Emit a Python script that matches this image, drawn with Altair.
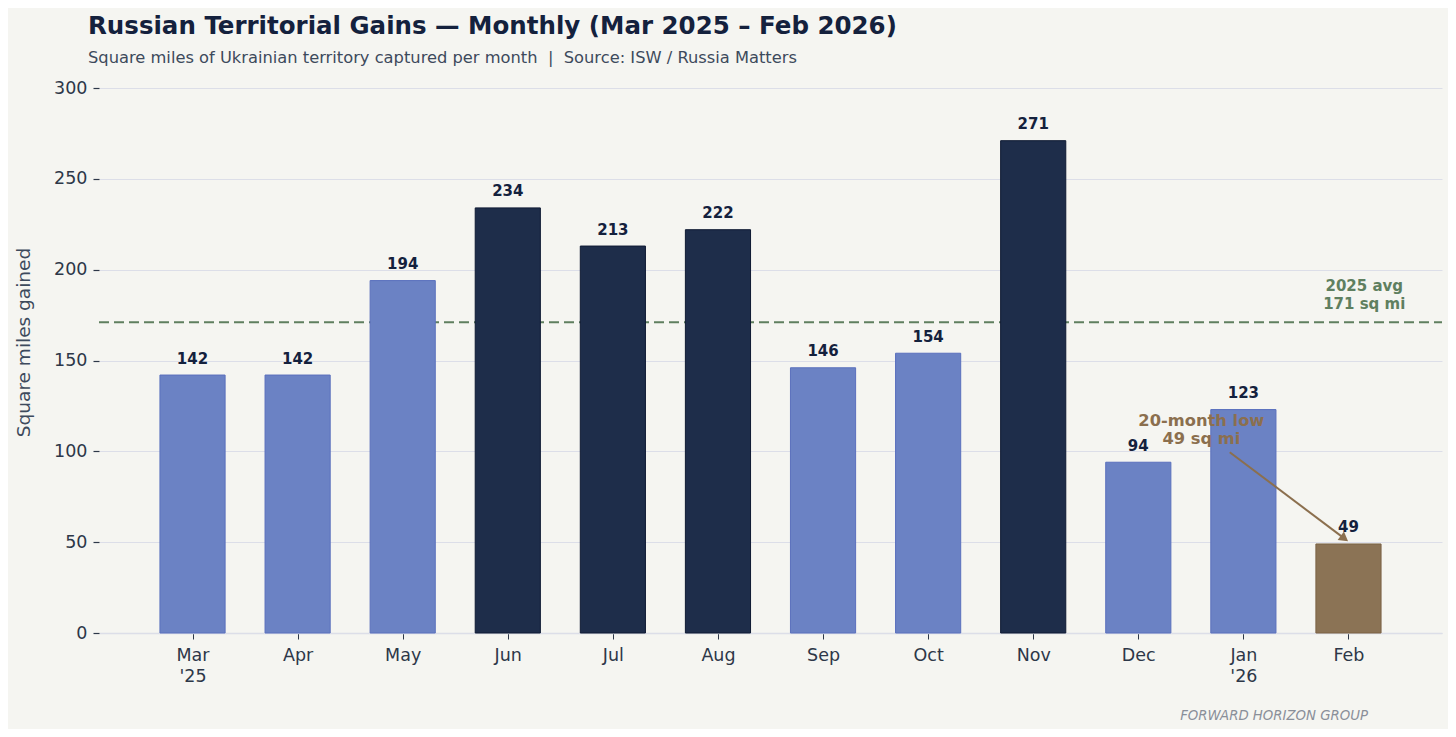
import altair as alt
import pandas as pd

months = ["Mar\n'25", "Apr", "May", "Jun", "Jul", "Aug", "Sep", "Oct", "Nov", "Dec", "Jan\n'26", "Feb"]
values = [142, 142, 194, 234, 213, 222, 146, 154, 271, 94, 123, 49]
groups = ["normal", "normal", "normal", "high", "high", "high", "normal", "normal", "high", "normal", "normal", "low"]

avg_value = 171
avg_label = ["2025 avg", "171 sq mi"]
low_label = ["20-month low", "49 sq mi"]

BG = "#f5f5f1"
DARK = "#14213d"
FONT = "DejaVu Sans"

idx = list(range(len(months)))
df = pd.DataFrame({"i": idx, "month": months, "value": values, "group": groups})
df["x0"] = df["i"] - 0.31
df["x1"] = df["i"] + 0.31
df["zero"] = 0

xscale = alt.Scale(domain=[-0.89, 11.89], nice=False, zero=False)
yscale = alt.Scale(domain=[0, 300], nice=False)

label_expr = "split(" + str([m for m in months]).replace("\\n", "|") + "[datum.value], '|')"

xaxis = alt.Axis(
    values=idx, labelExpr=label_expr, title=None, grid=False,
    domain=True, domainColor="#dcdee8", domainWidth=1.5,
    tickColor="#2d3748", tickSize=6, tickWidth=1, labelFontSize=17.5,
    labelColor="#2d3748", labelPadding=7, labelFont=FONT, labelLineHeight=21,
)
yaxis = alt.Axis(
    values=[0, 50, 100, 150, 200, 250, 300], title="Square miles gained",
    grid=True, gridColor="#dcdee8", gridWidth=1, domain=False,
    tickColor="#2d3748", tickSize=6, tickWidth=1.2, labelFontSize=17.5,
    labelColor="#2d3748", labelPadding=6, labelFont=FONT,
    titleFont=FONT, titleFontSize=18.5, titleFontWeight="normal", titleColor="#3d4a5c",
    titlePadding=20, titleY=254,
)

base = alt.Chart(df)

bars = base.mark_bar(strokeWidth=1).encode(
    x=alt.X("x0:Q", scale=xscale, axis=xaxis),
    x2="x1:Q",
    y=alt.Y("value:Q", scale=yscale, axis=yaxis),
    y2="zero:Q",
    color=alt.Color("group:N", scale=alt.Scale(domain=["normal", "high", "low"],
                                                  range=["#6b82c4", "#1e2d4a", "#8b7355"]), legend=None),
    stroke=alt.Stroke("group:N", scale=alt.Scale(domain=["normal", "high", "low"],
                                                    range=["#5a70bd", "#0f1a33", "#7a6245"]), legend=None),
)

bar_labels = base.mark_text(
    font=FONT, fontSize=15, fontWeight="bold", color=DARK, baseline="alphabetic", dy=-11.5
).encode(
    x=alt.X("i:Q", scale=xscale, axis=xaxis), y=alt.Y("value:Q", scale=yscale, axis=yaxis), text="value:Q"
)

avg_df = pd.DataFrame({"y": [avg_value], "xa": [-0.89], "xb": [11.89]})
avg_line = alt.Chart(avg_df).mark_rule(color="#5f7f5f", strokeWidth=2, strokeDash=[10, 5]).encode(
    x=alt.X("xa:Q", scale=xscale), x2="xb:Q", y=alt.Y("y:Q", scale=yscale)
)
avg_text_df = pd.DataFrame({"x": [11.15], "y": [avg_value + 17.2], "t": [avg_label]})
avg_text = alt.Chart(avg_text_df).mark_text(
    font=FONT, fontSize=15, fontWeight="bold", color="#5f7f5f", align="center",
    baseline="alphabetic", lineHeight=18
).encode(x=alt.X("x:Q", scale=xscale), y=alt.Y("y:Q", scale=yscale), text="t")

low_text_df = pd.DataFrame({"x": [9.6], "y": [114.0], "t": [low_label]})
low_text = alt.Chart(low_text_df).mark_text(
    font=FONT, fontSize=16.3, fontWeight="bold", color="#8b6f4e", align="center",
    baseline="alphabetic", lineHeight=18
).encode(x=alt.X("x:Q", scale=xscale), y=alt.Y("y:Q", scale=yscale), text="t")

arrow_df = pd.DataFrame({"xa": [9.87], "ya": [99.5], "xb": [10.95], "yb": [52.5]})
arrow_line = alt.Chart(arrow_df).mark_rule(color="#8b6f4e", strokeWidth=2).encode(
    x=alt.X("xa:Q", scale=xscale), y=alt.Y("ya:Q", scale=yscale), x2="xb:Q", y2="yb:Q"
)
arrow_head_df = pd.DataFrame({"x": [10.95], "y": [52.5]})
arrow_head = alt.Chart(arrow_head_df).mark_point(
    shape="triangle", filled=True, color="#8b6f4e", size=110, angle=127, opacity=1
).encode(x=alt.X("x:Q", scale=xscale), y=alt.Y("y:Q", scale=yscale))

watermark = alt.Chart(pd.DataFrame({"t": ["FORWARD HORIZON GROUP"]})).mark_text(
    font=FONT, fontSize=13.3, fontStyle="italic", color="#8a8f99", align="right", baseline="alphabetic"
).encode(x=alt.value(1269), y=alt.value(632), text="t")

chart = alt.layer(
    avg_line, bars, bar_labels, avg_text, arrow_line, arrow_head, low_text, watermark
).properties(
    width=1343, height=545,
    title=alt.TitleParams(
        text="Russian Territorial Gains — Monthly (Mar 2025 – Feb 2026)",
        subtitle="Square miles of Ukrainian territory captured per month\u00a0\u00a0|\u00a0\u00a0Source: ISW / Russia Matters",
        anchor="start", frame="group", dx=-11, offset=12,
        font=FONT, fontSize=24.5, fontWeight="bold", color=DARK,
        subtitleFont=FONT, subtitleFontSize=16.3, subtitleColor="#3d4a5c", subtitlePadding=10,
    ),
    autosize=alt.AutoSizeParams(type="none"),
    padding={"left": 91, "top": 80, "right": 6, "bottom": 96},
    background=BG,
).configure_view(stroke=None).configure_axis(labelFont=FONT)

chart.save("out.html", embed_options={"renderer": "svg", "actions": False})
